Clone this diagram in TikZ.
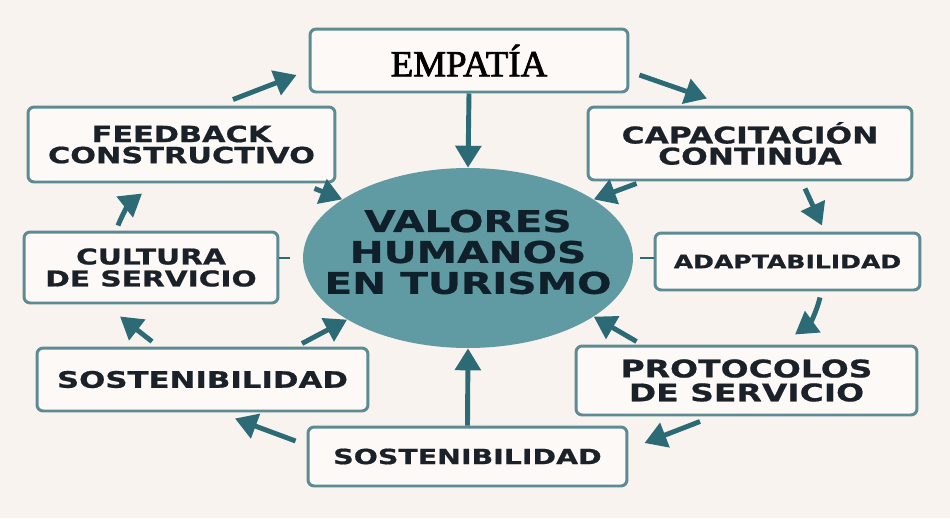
\documentclass[tikz,border=0pt]{standalone}
\usepackage{fontspec}
\usepackage{tikz}
\usetikzlibrary{arrows.meta}
\usetikzlibrary{shapes.geometric}
\usepackage{xcolor}
\definecolor{fondo}{HTML}{F8F3EE}
\definecolor{cajafondo}{HTML}{FCF9F6}
\definecolor{borde}{HTML}{5C8B94}
\definecolor{flechacol}{HTML}{2C6B76}
\definecolor{elipse}{HTML}{609BA3}
\definecolor{texto}{HTML}{1B2129}
\definecolor{textoc}{HTML}{10202B}
\newfontfamily\cajafont[FakeStretch=1.36,FakeBold=0.8]{DejaVu Sans}
\newfontfamily\empfont[FakeBold=2.2]{Liberation Serif}
\newcommand\cajatxt[2]{\cajafont\bfseries\fontsize{#1}{#2}\selectfont}

\begin{document}
\begin{tikzpicture}[x=0.02cm, y=-0.02cm,
	caja/.style={draw=borde, line width=1.7pt, rounded corners=3.5pt, fill=cajafondo, inner sep=0pt, align=center, text=texto},
	flecha/.style={draw=flechacol, line width=2.8pt, -{Triangle[length=12.5pt,width=14.5pt]}},
	enlace/.style={draw=flechacol, line width=1.5pt}]
	\fill[fondo] (0,0) rectangle (950,518);
	
	% centro
	\node[ellipse, fill=elipse, minimum width=6.6cm, minimum height=3.6cm, inner sep=0pt,
		label={[align=center, text=textoc, font=\cajatxt{17}{17.6}, yshift=0.12cm]center:VALORES\\HUMANOS\\EN TURISMO}] (valores) at (468,258) {};
	
	% cajas
	\node[caja, minimum width=6.36cm, minimum height=1.26cm, font=\empfont\fontsize{21}{22}\selectfont, text=black] (emp) at (469,60.5) {EMPATÍA};
	\node[caja, minimum width=6.14cm, minimum height=1.5cm, font=\cajatxt{12.7}{12}] (feedback) at (181.5,144.5) {FEEDBACK\\CONSTRUCTIVO};
	\node[caja, minimum width=5.08cm, minimum height=1.42cm, font=\cajatxt{12.4}{12.5}] (cultura) at (151,267.5) {CULTURA\\DE SERVICIO};
	\node[caja, minimum width=6.62cm, minimum height=1.26cm, font=\cajatxt{12.9}{13}] (sostizq) at (202.5,379.5) {SOSTENIBILIDAD};
	\node[caja, minimum width=6.38cm, minimum height=1.18cm, font=\cajatxt{11.9}{12}] (sostabj) at (467.5,456.5) {SOSTENIBILIDAD};
	\node[caja, minimum width=6.48cm, minimum height=1.46cm, font=\cajatxt{13.1}{12}] (capacit) at (750,143.5) {CAPACITACIÓN\\CONTINUA};
	\node[caja, minimum width=5.3cm, minimum height=1.14cm, font=\cajatxt{10.5}{11}] (adapt) at (787.5,261.5) {ADAPTABILIDAD};
	\node[caja, minimum width=6.82cm, minimum height=1.38cm, font=\cajatxt{13.8}{13.6}] (protoc) at (746.5,380.5) {PROTOCOLOS\\DE SERVICIO};
	
	% ciclo exterior
	\draw[flecha] ([shift={(51.5,-6)}]feedback.north) -- ([shift={(-12,14.5)}]emp.west);
	\draw[flecha] ([shift={(10,14.5)}]emp.east) -- ([shift={(-43,-7)}]capacit.north);
	\draw[flecha] ([shift={(55,7)}]capacit.south) -- ([shift={(34.5,-6)}]adapt.north);
	\draw[flecha] ([shift={(32.5,6)}]adapt.south) to[bend left=20] ([shift={(48.5,-10)}]protoc.north);
	\draw[flecha] ([shift={(-46.5,5)}]protoc.south) -- ([shift={(16,-13.5)}]sostabj.east);
	\draw[flecha] ([shift={(-11,-15.5)}]sostabj.west) -- ([shift={(32.5,6)}]sostizq.south);
	\draw[flecha] ([shift={(-50.5,-5)}]sostizq.north) -- ([shift={(-31,12)}]cultura.south);
	\draw[flecha] ([shift={(-33,-5)}]cultura.north) to[bend left=15] ([shift={(-39.5,10)}]feedback.south);
	
	% hacia el centro
	\draw[flecha] (emp.south) -- (valores.north);
	\draw[flecha] ([shift={(50,2)}]capacit.south west) -- (valores.25);
	\draw[flecha] ([shift={(62,-3)}]protoc.north west) -- (valores.-25);
	\draw[flecha] (sostabj.north) -- (valores.south);
	\draw[flecha] ([shift={(99.5,-3)}]sostizq.north) -- (valores.207);
	\draw[flecha] ([shift={(-22,5)}]feedback.south east) -- (valores.155);
	
	\draw[enlace, shorten <=7pt] (valores.west) -- (valores.west -| cultura.east);
	\draw[enlace, shorten <=4pt] (valores.east) -- (valores.east -| adapt.west);
	
\end{tikzpicture}
\end{document}
